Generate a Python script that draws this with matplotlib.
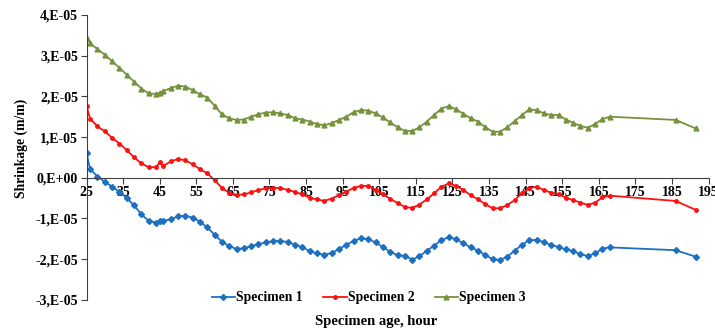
import matplotlib
matplotlib.use("Agg")
import matplotlib.pyplot as plt

# specimen age (hours)
ages = [25, 26, 28, 30, 32, 34, 36, 38, 40, 42, 44, 45, 46, 48, 50, 52, 54, 56, 58,
        60, 62, 64, 66, 68, 70, 72, 74, 76, 78, 80, 82, 84, 86, 88, 90, 92, 94, 96,
        98, 100, 102, 104, 106, 108, 110, 112, 114, 116, 118, 120, 122, 124, 126,
        128, 130, 132, 134, 136, 138, 140, 142, 144, 146, 148, 150, 152, 154, 156,
        158, 160, 162, 164, 166, 168, 186, 191.5]

# shrinkage in units of 1E-05 m/m
specimen1 = [0.60, 0.21, 0.03, -0.10, -0.22, -0.35, -0.50, -0.68, -0.90, -1.06, -1.10,
             -1.07, -1.06, -1.02, -0.95, -0.93, -0.98, -1.08, -1.22, -1.40, -1.57, -1.68,
             -1.75, -1.73, -1.68, -1.63, -1.59, -1.56, -1.55, -1.58, -1.64, -1.71, -1.80,
             -1.86, -1.89, -1.85, -1.75, -1.65, -1.55, -1.49, -1.51, -1.59, -1.70, -1.82,
             -1.90, -1.92, -2.01, -1.93, -1.79, -1.67, -1.53, -1.46, -1.51, -1.61, -1.71,
             -1.79, -1.90, -2.00, -2.02, -1.94, -1.79, -1.65, -1.53, -1.53, -1.58, -1.65,
             -1.70, -1.76, -1.80, -1.88, -1.92, -1.86, -1.74, -1.71, -1.78, -1.94]
specimen2 = [1.75, 1.45, 1.26, 1.14, 0.98, 0.84, 0.68, 0.50, 0.35, 0.26, 0.26,
             0.38, 0.29, 0.40, 0.46, 0.43, 0.33, 0.21, 0.11, -0.06, -0.25, -0.37,
             -0.42, -0.41, -0.36, -0.30, -0.26, -0.25, -0.25, -0.30, -0.35, -0.41, -0.49,
             -0.53, -0.57, -0.51, -0.43, -0.34, -0.25, -0.20, -0.20, -0.30, -0.40, -0.52,
             -0.62, -0.72, -0.74, -0.66, -0.53, -0.38, -0.22, -0.14, -0.20, -0.30, -0.43,
             -0.53, -0.65, -0.75, -0.75, -0.67, -0.55, -0.38, -0.26, -0.22, -0.30, -0.37,
             -0.40, -0.49, -0.55, -0.61, -0.67, -0.61, -0.48, -0.44, -0.57, -0.79]
specimen3 = [3.44, 3.30, 3.16, 3.02, 2.86, 2.70, 2.53, 2.36, 2.19, 2.07, 2.06,
             2.09, 2.13, 2.20, 2.26, 2.24, 2.15, 2.05, 1.97, 1.77, 1.56, 1.46,
             1.42, 1.43, 1.50, 1.56, 1.60, 1.61, 1.58, 1.54, 1.46, 1.43, 1.38,
             1.32, 1.29, 1.34, 1.42, 1.50, 1.61, 1.66, 1.65, 1.58, 1.48, 1.36,
             1.24, 1.15, 1.15, 1.24, 1.38, 1.54, 1.70, 1.76, 1.68, 1.57, 1.46,
             1.38, 1.24, 1.13, 1.13, 1.24, 1.39, 1.54, 1.68, 1.66, 1.58, 1.54,
             1.54, 1.43, 1.35, 1.27, 1.23, 1.32, 1.44, 1.50, 1.42, 1.21]

y_ticks = [-3, -2, -1, 0, 1, 2, 3, 4]
y_labels = ["-3,E-05", "-2,E-05", "-1,E-05", "0,E+00", "1,E-05", "2,E-05", "3,E-05", "4,E-05"]
x_ticks = list(range(25, 196, 10))

plt.rcParams['font.family'] = ['Liberation Serif', 'DejaVu Serif']
plt.rcParams['font.weight'] = 'bold'

fig = plt.figure(figsize=(7.15, 3.31), dpi=100)
ax = fig.add_axes([0.121, 0.094, 0.870, 0.861])

ax.plot(ages, specimen1, color='#1f6fc0', marker='D', markersize=3, lw=1.3, label='Specimen 1')
ax.plot(ages, specimen2, color='#ff1010', marker='o', markersize=2.5, lw=1.3, label='Specimen 2')
ax.plot(ages, specimen3, color='#76923c', marker='^', markersize=3.5, lw=1.3, label='Specimen 3')

ax.set_xlim(25, 195)
ax.set_ylim(-3, 4)
ax.set_yticks(y_ticks)
ax.set_yticklabels(y_labels, fontsize=10, fontweight='bold')
ax.set_xticks(x_ticks)
ax.set_xticklabels([str(t) for t in x_ticks], fontsize=10, fontweight='bold')

ax.spines['top'].set_visible(False)
ax.spines['right'].set_visible(False)
ax.spines['bottom'].set_position(('data', 0))
ax.spines['left'].set_color('#404040')
ax.spines['bottom'].set_color('#404040')
ax.tick_params(axis='both', direction='out', length=4, width=0.8, color='#404040', pad=2)

fig.text(0.030, 0.553, 'Shrinkage (m/m)', rotation=90, ha='center', va='center',
         fontsize=9.8, fontweight='bold')
fig.text(0.526, 0.028, 'Specimen age, hour', ha='center', va='center',
         fontsize=10.5, fontweight='bold')

fig.legend(loc='center', bbox_to_anchor=(0.516, 0.100), ncol=3, frameon=False,
           handlelength=1.7, handletextpad=0.1, columnspacing=1.5,
           prop={'weight': 'bold', 'size': 9.8})

fig.savefig('out.png', dpi=100)
